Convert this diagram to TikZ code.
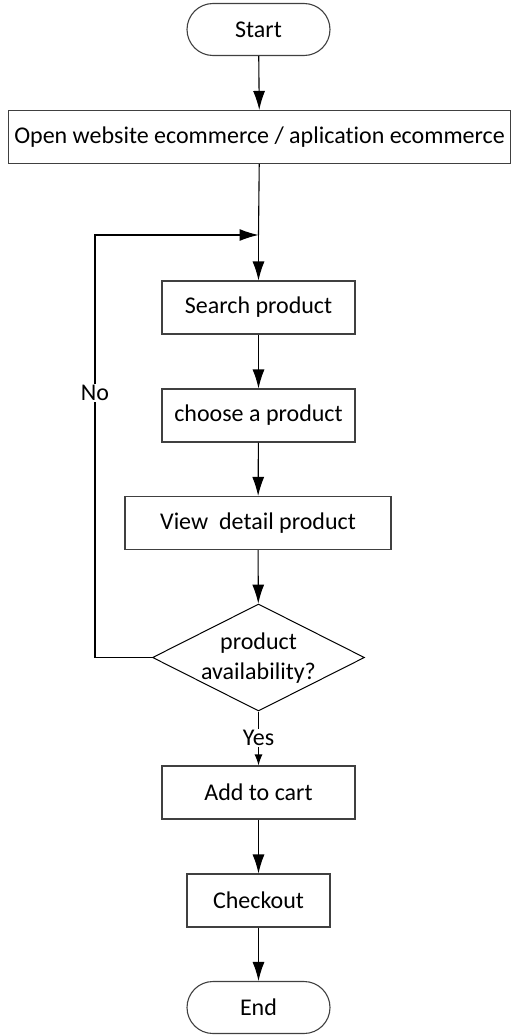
\documentclass[tikz,border=0pt]{standalone}
\usepackage{fontspec}
\setmainfont{Carlito}[Ligatures=NoCommon]
\usetikzlibrary{arrows.meta,shapes.geometric}

\begin{document}
\begin{tikzpicture}[x=1pt,y=-1pt,
  every node/.style={font=\fontsize{24}{29.5}\selectfont,align=center,inner sep=2pt},
  box/.style={draw=black!75,line width=1.1pt,rectangle,minimum height=53pt},
  term/.style={box,rounded corners=26pt,minimum width=143pt,minimum height=52pt},
  decision/.style={diamond,draw,line width=1pt,minimum width=212pt,minimum height=107pt,inner sep=0pt},
  flow/.style={line width=1.1pt,-{Latex[length=19pt,width=12pt]}},
  lbl/.style={fill=white,inner sep=1pt}]
  \useasboundingbox (0,0) rectangle (517,1036);

  \node[term] (start) at (258.5,29.5) {Start};
  \node[box,minimum width=502pt] (open) at (259.5,137)
    {Open website ecommerce / aplication ecommerce};
  \coordinate (join) at (258.5,235);
  \node[box,minimum width=193pt] (search) at (258.5,307.5) {Search product};
  \node[box,minimum width=193pt] (choose) at (258.5,415.5) {choose a product};
  \node[box,minimum width=266pt] (view) at (258,523) {View\ \ detail product};
  \node[decision] (avail) at (258.5,657.5) {};
  \node (availtxt) at (258.5,658) {product\\availability?};
  \node[box,minimum width=193pt] (cart) at (258.5,792.5) {Add to cart};
  \node[box,minimum width=143pt] (checkout) at (258.5,900.5) {Checkout};
  \node[term] (end) at (258.5,1007.5) {End};

  \draw[flow] (start) -- (open);
  \draw[line width=1.1pt] (open) -- (join);
  \draw[flow] (join) -- (search);
  \draw[flow] (search) -- (choose);
  \draw[flow] (choose) -- (view);
  \draw[flow] (view) -- (avail);
  \draw[flow] (avail.west) -- ++(-57,0) |- node[lbl,pos=.313] {No} (join);
  \draw[line width=1.1pt,-{Latex[length=11pt,width=8pt]}] (avail) --
    node[lbl,pos=.49] {Yes} (cart);
  \draw[flow] (cart) -- (checkout);
  \draw[flow] (checkout) -- (end);
\end{tikzpicture}
\end{document}
